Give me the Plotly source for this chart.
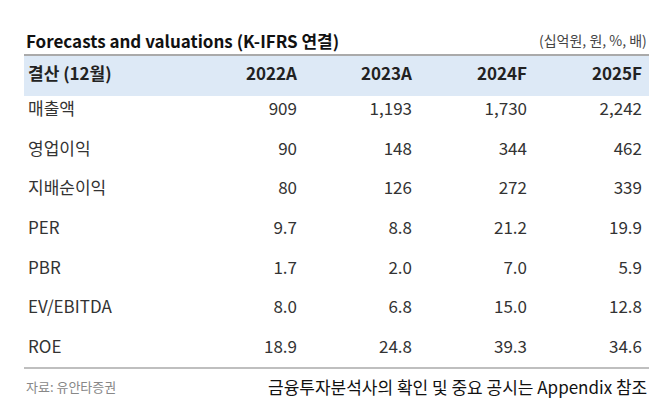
import plotly.graph_objects as go

title = "Forecasts and valuations (K-IFRS 연결)"
unit = "(십억원, 원, %, 배)"
header = ["결산 (12월)", "2022A", "2023A", "2024F", "2025F"]
rows = ["매출액", "영업이익", "지배순이익", "PER", "PBR", "EV/EBITDA", "ROE"]
v2022 = ["909", "90", "80", "9.7", "1.7", "8.0", "18.9"]
v2023 = ["1,193", "148", "126", "8.8", "2.0", "6.8", "24.8"]
v2024 = ["1,730", "344", "272", "21.2", "7.0", "15.0", "39.3"]
v2025 = ["2,242", "462", "339", "19.9", "5.9", "12.8", "34.6"]

FONT = "Noto Sans CJK KR"
col_x = [289, 404, 519, 634]
row_y = [103 + 39.6 * i for i in range(len(rows))]

fig = go.Figure()

# row labels
fig.add_trace(go.Scatter(x=[20] * len(rows), y=row_y, text=rows, mode="text",
                         textposition="middle right",
                         textfont=dict(family=FONT, size=17, color="#333")))
for cx, vals in zip(col_x, [v2022, v2023, v2024, v2025]):
    fig.add_trace(go.Scatter(x=[cx] * len(vals), y=row_y, text=vals, mode="text",
                             textposition="middle left",
                             textfont=dict(family=FONT, size=17, color="#333")))

# header row
fig.add_trace(go.Scatter(x=[20], y=[68], text=["<b>" + header[0] + "</b>"], mode="text",
                         textposition="middle right",
                         textfont=dict(family=FONT, size=17, color="#222")))
fig.add_trace(go.Scatter(x=col_x, y=[68] * 4, text=["<b>%s</b>" % h for h in header[1:]],
                         mode="text", textposition="middle left",
                         textfont=dict(family=FONT, size=17, color="#222")))

fig.add_shape(type="rect", x0=16, x1=641, y0=47, y1=88, fillcolor="#dde9f6",
              line_width=0, layer="below")
fig.add_shape(type="line", x0=16, x1=641, y0=47, y1=47, line=dict(color="#aaaaaa", width=2))
fig.add_shape(type="line", x0=16, x1=641, y0=360, y1=360, line=dict(color="#aaaaaa", width=1.5))

fig.add_annotation(x=16, y=32, text="<b>" + title + "</b>", showarrow=False, xanchor="left",
                   font=dict(family=FONT, size=17, color="#111"))
fig.add_annotation(x=641, y=32, text=unit, showarrow=False, xanchor="right",
                   font=dict(family=FONT, size=14, color="#444"))
fig.add_annotation(x=16, y=378, text="자료: 유안타증권", showarrow=False, xanchor="left",
                   font=dict(family=FONT, size=13, color="#888"))
fig.add_annotation(x=641, y=378, text="금융투자분석사의 확인 및 중요 공시는 Appendix 참조",
                   showarrow=False, xanchor="right",
                   font=dict(family=FONT, size=17, color="#111"))

fig.update_xaxes(range=[0, 670], visible=False, fixedrange=True)
fig.update_yaxes(range=[400, 0], visible=False, fixedrange=True)
fig.update_layout(width=670, height=400, margin=dict(l=0, r=0, t=0, b=0),
                  showlegend=False, plot_bgcolor="white", paper_bgcolor="white")

fig.write_html("out.html")
